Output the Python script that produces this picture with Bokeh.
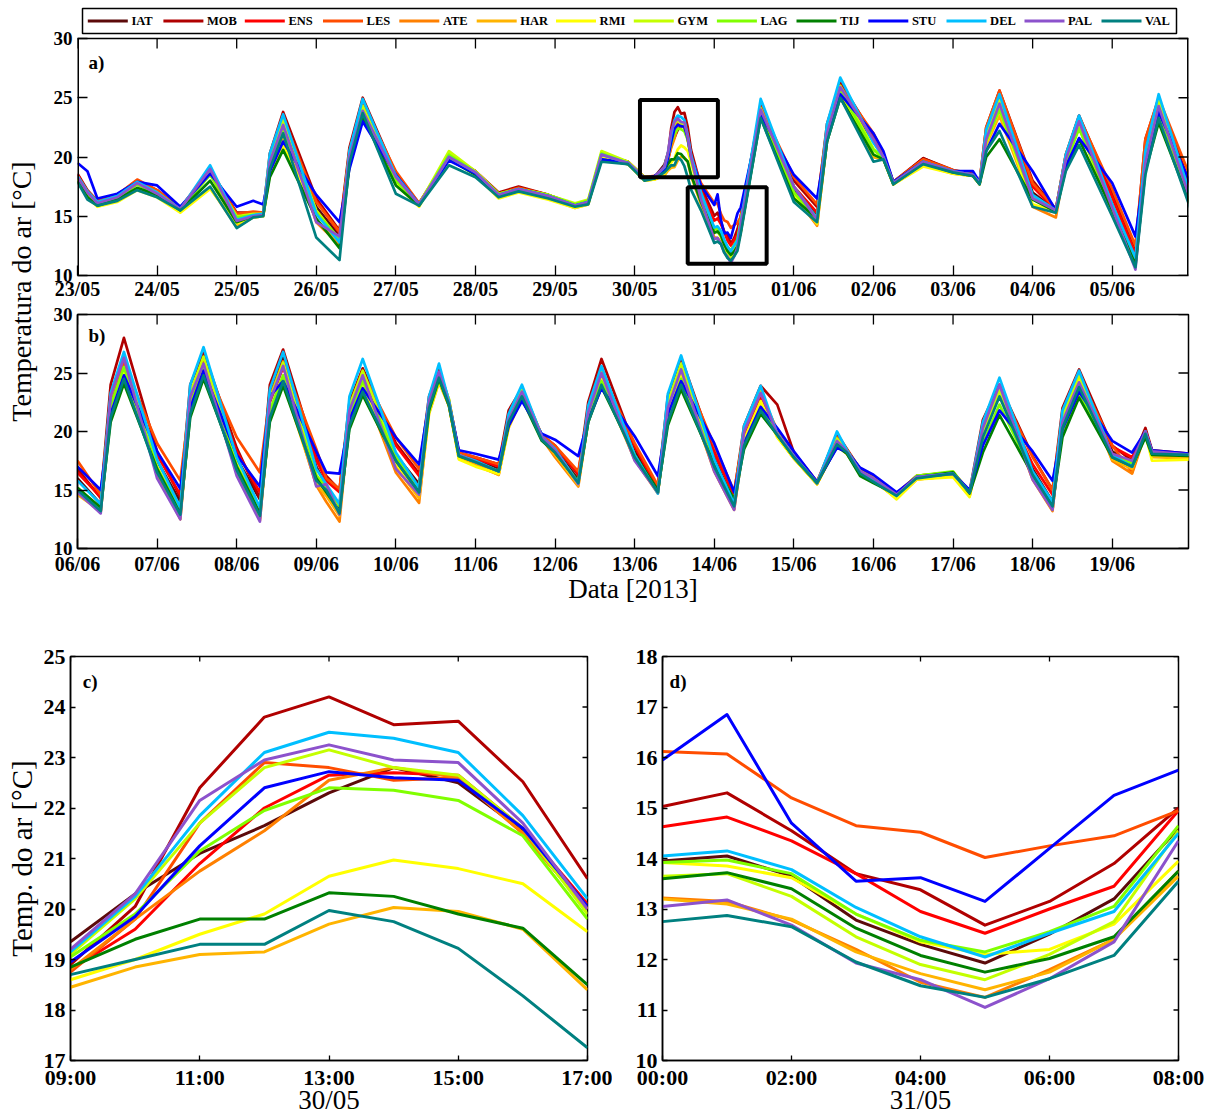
import numpy as np
from bokeh.plotting import figure
from bokeh.layouts import row, column
from bokeh.models import Range1d, FixedTicker, Label
from bokeh.core.properties import value
from bokeh.embed import file_html
from bokeh.resources import INLINE

FONT = "Liberation Serif"

stations = ["IAT", "MOB", "ENS", "LES", "ATE", "HAR", "RMI", "GYM", "LAG", "TIJ", "STU", "DEL", "PAL", "VAL"]
colors = ["#5c0a0a", "#b00000", "#ff0000", "#ff4d00", "#ff8000", "#ffb400", "#ffff00",
          "#c4ff00", "#80ff00", "#008000", "#0000ff", "#00bfff", "#8c52cc", "#008080"]

# ---------------- panel c: 30/05 09:00-17:00 (hourly) ----------------
c_hours = [9, 10, 11, 12, 13, 14, 15, 16, 17]
temps_c = {
    "IAT": [19.35, 20.3, 21.1, 21.65, 22.3, 22.8, 22.5, 21.55, 20.0],
    "MOB": [18.9, 20.05, 22.4, 23.8, 24.2, 23.65, 23.72, 22.52, 20.6],
    "ENS": [18.8, 19.6, 20.9, 22.0, 22.65, 22.7, 22.65, 21.6, 20.1],
    "LES": [18.75, 19.8, 21.7, 22.9, 22.8, 22.55, 22.6, 21.5, 20.0],
    "ATE": [18.8, 19.8, 20.75, 21.55, 22.55, 22.8, 22.6, 21.5, 20.0],
    "HAR": [18.45, 18.85, 19.1, 19.15, 19.7, 20.03, 19.95, 19.6, 18.4],
    "RMI": [18.6, 19.0, 19.5, 19.9, 20.65, 20.97, 20.8, 20.5, 19.55],
    "GYM": [19.1, 20.2, 21.7, 22.8, 23.15, 22.8, 22.65, 21.6, 19.9],
    "LAG": [19.05, 19.9, 21.15, 21.95, 22.4, 22.35, 22.15, 21.45, 19.8],
    "TIJ": [18.85, 19.4, 19.8, 19.8, 20.32, 20.25, 19.9, 19.62, 18.5],
    "STU": [18.95, 19.85, 21.25, 22.4, 22.72, 22.6, 22.55, 21.6, 20.05],
    "DEL": [19.15, 20.25, 21.85, 23.1, 23.5, 23.38, 23.1, 21.85, 20.2],
    "PAL": [19.2, 20.3, 22.15, 22.95, 23.25, 22.95, 22.9, 21.7, 20.0],
    "VAL": [18.7, 19.0, 19.3, 19.3, 19.97, 19.75, 19.22, 18.28, 17.25],
}

# ---------------- panel d: 31/05 00:00-08:00 (hourly) ----------------
d_hours = [0, 1, 2, 3, 4, 5, 6, 7, 8]
temps_d = {
    "IAT": [13.95, 14.05, 13.65, 12.78, 12.3, 11.93, 12.5, 13.2, 14.6],
    "MOB": [15.03, 15.3, 14.55, 13.7, 13.38, 12.68, 13.15, 13.9, 15.0],
    "ENS": [14.63, 14.82, 14.35, 13.7, 12.95, 12.52, 13.0, 13.45, 14.95],
    "LES": [16.12, 16.07, 15.2, 14.65, 14.52, 14.02, 14.25, 14.45, 14.95],
    "ATE": [13.22, 13.15, 12.78, 12.2, 11.55, 11.25, 11.8, 12.4, 13.75],
    "HAR": [13.2, 13.1, 12.8, 12.15, 11.72, 11.4, 11.75, 12.4, 13.65],
    "RMI": [13.92, 13.85, 13.62, 12.9, 12.35, 12.1, 12.2, 12.7, 13.95],
    "GYM": [13.65, 13.7, 13.25, 12.45, 11.9, 11.6, 12.1, 12.75, 14.55],
    "LAG": [13.92, 13.97, 13.7, 12.9, 12.38, 12.15, 12.55, 13.05, 14.65],
    "TIJ": [13.6, 13.72, 13.4, 12.62, 12.08, 11.75, 12.02, 12.45, 13.75],
    "STU": [15.95, 16.85, 14.7, 13.55, 13.62, 13.15, 14.2, 15.25, 15.75],
    "DEL": [14.05, 14.15, 13.78, 13.03, 12.45, 12.05, 12.52, 12.95, 14.5],
    "PAL": [13.05, 13.18, 12.68, 11.93, 11.6, 11.05, 11.62, 12.35, 14.35],
    "VAL": [12.75, 12.87, 12.65, 11.95, 11.48, 11.25, 11.62, 12.08, 13.55],
}

# ---------------- panel a: 23/05-05/06, key hours from 23/05 00:00 ----------------
a_hours = [0, 3, 6, 12, 18, 24, 31, 40, 48, 53, 56, 62, 72, 79, 86, 96, 103, 112, 120, 127,
           133, 142, 150, 154, 158, 166, 171, 174, 188, 206, 216, 223, 230, 240, 243, 246,
           255, 264, 270, 272, 278, 288, 295, 302, 312, 319, 326, 336]
temps_a = {
    "IAT": [18.3, 17.0, 16.2, 16.7, 17.9, 17.0, 15.6, 18.8, 15.1, 15.2, 15.2, 22.5, 15.8, 13.3, 24.0, 18.2, 16.0, 20.0, 18.8, 16.9,
            17.4, 16.8, 15.9, 16.2, 20.2, 19.6, 18.2, 18.3, 16.9, 24.0, 17.3, 15.0, 25.8, 21.3, 20.0, 17.8,
            19.9, 18.8, 18.5, 17.8, 24.6, 17.0, 15.5, 22.8, 16.0, 11.3, 24.5, 16.5],
    "MOB": [18.6, 17.2, 16.3, 16.8, 18.0, 17.2, 15.7, 18.9, 15.3, 15.3, 15.3, 23.8, 16.5, 13.8, 25.0, 18.6, 16.1, 20.0, 18.8, 17.0,
            17.5, 16.8, 16.0, 16.2, 20.2, 19.6, 18.3, 18.3, 17.5, 24.3, 18.0, 15.8, 26.3, 21.8, 20.2, 17.9,
            19.9, 18.9, 18.5, 17.9, 25.6, 18.0, 15.6, 23.5, 17.0, 12.3, 24.9, 17.3],
    "ENS": [18.5, 17.1, 16.2, 16.7, 17.9, 17.1, 15.6, 18.9, 15.0, 15.2, 15.2, 23.0, 16.3, 13.6, 24.2, 18.5, 16.0, 20.0, 18.7, 16.9,
            17.3, 16.7, 15.9, 16.2, 20.2, 19.5, 18.2, 18.3, 17.2, 24.0, 17.5, 15.3, 25.9, 21.5, 20.1, 17.8,
            19.7, 18.8, 18.5, 17.8, 25.0, 17.5, 15.5, 23.2, 16.6, 11.8, 24.6, 17.0],
    "LES": [18.4, 17.1, 16.3, 16.8, 18.1, 17.2, 15.7, 19.0, 15.2, 15.4, 15.3, 23.3, 16.2, 13.7, 24.5, 18.8, 16.1, 20.2, 18.8, 16.9,
            17.4, 16.8, 16.0, 16.3, 20.3, 19.6, 18.3, 18.4, 17.8, 24.2, 18.3, 16.0, 26.0, 22.0, 20.3, 17.9,
            19.8, 18.9, 18.6, 17.9, 25.6, 17.8, 15.6, 23.4, 17.3, 12.5, 25.0, 18.0],
    "ATE": [18.2, 16.9, 16.1, 16.5, 17.7, 16.9, 15.5, 18.6, 14.3, 15.0, 15.1, 22.6, 14.5, 12.6, 24.0, 17.8, 15.9, 20.3, 18.6, 16.7,
            17.2, 16.6, 15.8, 16.1, 20.3, 19.5, 18.1, 18.2, 16.6, 23.8, 16.8, 14.2, 25.6, 20.0, 19.8, 17.7,
            19.5, 18.7, 18.4, 17.7, 24.5, 15.8, 14.9, 22.8, 15.3, 10.8, 24.3, 15.8],
    "HAR": [18.0, 16.7, 15.9, 16.3, 17.3, 16.7, 15.4, 17.4, 14.1, 14.9, 15.0, 21.5, 14.7, 12.8, 23.6, 17.8, 15.9, 20.2, 18.6, 16.6,
            17.1, 16.5, 15.7, 16.0, 20.1, 19.4, 18.0, 18.1, 16.0, 23.5, 16.8, 14.3, 25.3, 20.0, 19.8, 17.7,
            19.3, 18.6, 18.4, 17.7, 23.5, 15.9, 15.3, 22.5, 15.4, 10.9, 24.0, 15.6],
    "RMI": [17.9, 16.6, 15.8, 16.2, 17.2, 16.6, 15.3, 17.3, 14.4, 14.9, 15.0, 21.0, 15.2, 12.9, 23.5, 17.7, 15.8, 20.3, 18.5, 16.5,
            17.0, 16.4, 15.7, 16.0, 20.1, 19.4, 18.0, 18.1, 16.4, 23.6, 16.8, 14.4, 25.6, 20.2, 19.8, 17.7,
            19.2, 18.6, 18.4, 17.7, 24.0, 16.0, 15.4, 22.5, 15.5, 11.0, 24.6, 15.8],
    "GYM": [18.3, 17.0, 16.1, 16.6, 17.8, 17.0, 15.6, 18.7, 15.0, 15.2, 15.2, 23.2, 15.5, 13.0, 24.3, 18.1, 16.0, 20.5, 18.8, 16.9,
            17.3, 16.8, 16.1, 16.4, 20.5, 19.6, 18.3, 18.3, 16.6, 24.1, 17.0, 14.8, 26.0, 20.7, 19.9, 17.8,
            19.6, 18.8, 18.5, 17.8, 24.8, 16.6, 15.4, 22.8, 15.8, 11.0, 24.9, 16.2],
    "LAG": [18.2, 16.9, 16.0, 16.5, 17.7, 16.9, 15.6, 18.5, 14.9, 15.1, 15.2, 22.3, 15.3, 13.1, 23.8, 18.0, 16.0, 20.2, 18.7, 16.9,
            17.3, 16.8, 16.0, 16.3, 20.3, 19.5, 18.2, 18.3, 16.8, 23.8, 17.0, 14.9, 25.6, 20.6, 19.9, 17.8,
            19.6, 18.8, 18.5, 17.8, 24.0, 16.5, 15.4, 22.4, 15.8, 11.0, 24.0, 16.0],
    "TIJ": [18.0, 16.6, 15.9, 16.4, 17.4, 16.8, 15.5, 18.0, 14.5, 15.0, 15.1, 20.6, 14.8, 12.3, 23.4, 17.6, 15.9, 19.8, 18.5, 16.7,
            17.2, 16.6, 15.9, 16.1, 19.8, 19.4, 18.1, 18.2, 16.2, 23.3, 16.5, 14.8, 25.0, 20.2, 19.8, 17.7,
            19.5, 18.7, 18.4, 17.7, 21.5, 16.4, 15.4, 21.5, 15.5, 11.0, 22.9, 15.7],
    "STU": [19.5, 18.8, 16.5, 16.9, 17.9, 17.6, 15.8, 18.6, 15.8, 16.3, 16.0, 21.3, 16.8, 14.5, 23.0, 18.5, 16.0, 19.7, 18.6, 16.8,
            17.3, 16.7, 15.9, 16.2, 19.8, 19.5, 18.2, 18.4, 17.6, 23.6, 18.5, 16.5, 25.3, 22.0, 20.5, 17.9,
            19.6, 18.8, 18.8, 17.9, 22.8, 18.8, 15.5, 21.6, 17.8, 13.3, 23.8, 17.5],
    "DEL": [18.4, 17.1, 16.2, 16.7, 17.9, 17.0, 15.6, 19.3, 14.7, 15.1, 15.2, 23.6, 15.2, 12.8, 24.9, 18.4, 16.0, 20.0, 18.7, 16.8,
            17.3, 16.7, 15.9, 16.2, 20.2, 19.5, 18.2, 18.3, 17.0, 24.9, 17.5, 14.8, 26.7, 21.2, 20.0, 17.8,
            19.6, 18.8, 18.5, 17.8, 25.3, 16.8, 15.5, 23.5, 16.0, 11.5, 25.3, 16.4],
    "PAL": [18.3, 17.0, 16.1, 16.6, 17.8, 16.9, 15.6, 19.0, 14.6, 15.0, 15.1, 22.7, 14.5, 13.3, 23.9, 18.3, 16.0, 20.0, 18.7, 16.8,
            17.3, 16.7, 15.9, 16.2, 20.2, 19.5, 18.2, 18.3, 16.4, 24.0, 17.5, 14.7, 25.9, 21.5, 20.0, 17.8,
            19.6, 18.8, 18.5, 17.8, 24.5, 16.5, 15.5, 23.0, 15.7, 10.5, 24.3, 16.0],
    "VAL": [17.9, 16.4, 15.9, 16.3, 17.2, 16.6, 15.5, 17.5, 14.0, 14.9, 15.0, 22.0, 13.2, 11.3, 23.7, 16.9, 15.9, 19.3, 18.3, 16.6,
            17.1, 16.5, 15.8, 16.0, 19.6, 19.4, 18.0, 18.2, 15.5, 23.3, 16.2, 14.5, 25.0, 19.6, 19.8, 17.7,
            19.4, 18.7, 18.4, 17.7, 22.2, 15.8, 15.3, 21.0, 15.0, 10.7, 23.3, 15.3],
}
# extra morning (10:00) readings on warm days of panel a, station order as above
a_extra_hours = [58, 82, 226, 274, 298, 322]
a_extra_rows = [
    [19.5, 20.3, 19.8, 20.0, 19.5, 18.8, 18.6, 20.0, 19.3, 18.3, 18.8, 20.3, 19.6, 19.0],
    [20.0, 20.8, 20.3, 20.5, 19.5, 19.5, 19.3, 20.2, 19.8, 19.2, 19.0, 20.5, 20.0, 19.5],
    [22.0, 22.8, 22.3, 22.5, 21.5, 21.3, 21.5, 22.3, 21.8, 21.3, 21.5, 22.8, 22.0, 21.3],
    [21.5, 22.5, 22.0, 22.5, 21.5, 21.0, 21.2, 21.8, 21.3, 20.0, 20.5, 22.3, 21.5, 20.5],
    [19.8, 20.2, 20.0, 20.2, 19.6, 19.5, 19.5, 19.8, 19.5, 19.0, 19.2, 20.2, 19.8, 18.8],
    [20.0, 21.5, 20.8, 21.5, 19.5, 19.3, 19.8, 20.0, 19.6, 18.8, 19.5, 20.5, 19.5, 18.5],
]

# ---------------- panel b: 06/06-19/06, key hours from 06/06 00:00 ----------------
# each row: one key hour, values in station order (IAT ... VAL)
b_hours = [0, 7, 14, 24, 31, 38, 48, 55, 62, 72, 75, 79, 86, 96, 103, 109, 112, 115, 120, 127,
           134, 140, 144, 151, 158, 168, 175, 182, 192, 198, 206, 211, 216, 223, 229, 232, 236, 240,
           247, 253, 264, 269, 278, 288, 294, 302, 312, 318, 322, 324, 336]
b_rows = [
    [16.0, 16.8, 16.5, 17.5, 14.8, 14.6, 15.0, 15.2, 15.0, 15.2, 17.0, 15.8, 14.8, 15.0],
    [13.8, 14.3, 14.4, 14.6, 13.1, 13.2, 13.3, 13.4, 13.5, 13.5, 15.0, 13.8, 13.0, 13.2],
    [26.0, 28.0, 25.5, 25.8, 25.5, 25.0, 25.3, 26.5, 25.5, 24.1, 24.8, 26.8, 26.3, 24.5],
    [17.5, 18.3, 18.0, 19.0, 16.4, 16.5, 16.8, 17.0, 16.8, 16.8, 18.3, 17.6, 16.0, 16.5],
    [14.0, 14.4, 14.6, 15.8, 12.5, 12.7, 12.9, 13.2, 13.3, 13.0, 15.1, 13.5, 12.5, 12.9],
    [25.8, 26.8, 25.7, 26.0, 25.3, 25.0, 25.0, 26.4, 25.4, 24.5, 25.2, 27.2, 25.8, 24.8],
    [17.7, 18.6, 18.3, 19.5, 16.5, 16.7, 17.0, 17.2, 17.0, 17.0, 18.0, 17.8, 16.2, 16.7],
    [14.2, 14.3, 14.8, 16.5, 12.4, 12.6, 12.8, 13.3, 13.4, 13.0, 15.3, 13.5, 12.3, 12.8],
    [26.5, 27.0, 25.5, 26.0, 24.6, 24.2, 24.4, 25.9, 24.8, 23.9, 24.3, 26.8, 25.6, 24.3],
    [17.0, 17.8, 17.6, 18.5, 15.4, 15.5, 15.8, 16.3, 16.2, 16.0, 18.3, 16.8, 15.3, 15.8],
    [15.4, 16.2, 15.8, 16.0, 14.0, 14.5, 15.0, 15.2, 15.2, 14.8, 16.5, 15.5, 15.5, 15.0],
    [13.5, 15.0, 14.8, 15.1, 12.3, 12.8, 13.1, 13.5, 13.7, 13.2, 16.4, 13.8, 12.9, 13.0],
    [25.0, 25.4, 24.8, 25.0, 24.0, 23.8, 24.0, 25.2, 24.3, 23.1, 23.7, 26.2, 24.8, 23.4],
    [18.0, 19.0, 18.8, 19.5, 16.5, 17.0, 17.3, 18.0, 17.8, 17.5, 19.5, 18.2, 16.8, 17.5],
    [15.5, 16.4, 16.2, 16.8, 13.9, 14.3, 14.6, 15.0, 15.2, 14.8, 17.2, 15.2, 14.6, 14.8],
    [24.9, 25.3, 25.0, 25.0, 24.4, 24.2, 24.3, 24.8, 24.4, 24.5, 25.0, 25.8, 25.1, 24.6],
    [22.5, 22.7, 22.5, 22.6, 22.2, 22.2, 22.3, 22.8, 22.4, 22.2, 22.5, 22.6, 22.4, 22.3],
    [18.0, 18.2, 18.1, 18.2, 17.8, 17.7, 17.6, 18.0, 17.9, 17.9, 18.4, 18.0, 18.0, 17.9],
    [17.6, 17.8, 17.7, 17.8, 17.2, 17.1, 17.0, 17.4, 17.4, 17.4, 18.1, 17.5, 17.4, 17.4],
    [16.8, 17.2, 17.0, 17.2, 16.3, 16.3, 16.4, 16.6, 16.6, 16.6, 17.6, 16.6, 16.6, 16.6],
    [23.4, 23.7, 23.2, 23.4, 23.0, 22.8, 23.2, 23.8, 23.2, 22.8, 22.6, 24.0, 23.4, 23.0],
    [19.6, 19.7, 19.6, 19.7, 19.4, 19.4, 19.5, 19.6, 19.5, 19.2, 19.8, 19.6, 19.6, 19.3],
    [18.5, 18.8, 18.7, 18.8, 17.8, 18.0, 18.2, 18.4, 18.3, 18.2, 19.3, 18.5, 18.4, 18.2],
    [15.9, 16.3, 16.4, 16.6, 15.3, 15.4, 15.5, 15.6, 15.7, 15.7, 17.9, 15.6, 15.5, 15.6],
    [24.9, 26.2, 24.7, 25.0, 24.5, 24.2, 24.7, 25.3, 24.3, 23.8, 23.7, 25.6, 25.0, 24.0],
    [18.3, 18.7, 18.8, 19.0, 17.6, 17.6, 17.8, 18.0, 18.0, 18.0, 19.6, 18.0, 17.5, 17.8],
    [15.0, 15.3, 15.1, 15.4, 14.7, 14.8, 14.9, 14.8, 14.8, 15.0, 16.2, 14.7, 14.8, 14.8],
    [25.2, 26.3, 25.2, 25.6, 24.8, 24.3, 24.8, 25.8, 24.5, 23.6, 24.3, 26.5, 25.3, 24.0],
    [17.7, 18.3, 18.2, 18.8, 16.6, 16.8, 17.0, 17.3, 17.3, 17.2, 19.0, 17.6, 16.6, 17.0],
    [14.0, 14.7, 14.5, 14.9, 13.3, 13.5, 13.8, 14.0, 14.1, 14.2, 14.8, 13.8, 13.3, 13.6],
    [23.0, 23.9, 23.0, 23.3, 22.5, 22.3, 22.6, 23.5, 22.0, 21.5, 22.1, 23.9, 23.3, 21.8],
    [19.8, 22.3, 20.0, 20.1, 19.6, 19.6, 19.5, 19.9, 19.8, 19.7, 20.3, 19.8, 19.8, 19.7],
    [17.9, 18.2, 18.1, 18.2, 17.7, 17.7, 17.7, 17.9, 17.8, 17.8, 18.3, 17.9, 17.9, 17.8],
    [15.6, 15.7, 15.6, 15.7, 15.5, 15.5, 15.5, 15.6, 15.6, 15.6, 15.7, 15.6, 15.6, 15.6],
    [19.3, 19.8, 19.4, 19.5, 19.0, 18.8, 19.0, 19.4, 19.0, 18.7, 18.6, 20.0, 19.2, 18.9],
    [18.3, 18.5, 18.4, 18.4, 18.1, 18.1, 18.2, 18.4, 18.2, 18.1, 18.3, 18.4, 18.3, 18.2],
    [16.6, 16.8, 16.7, 16.8, 16.4, 16.4, 16.5, 16.6, 16.5, 16.2, 16.9, 16.6, 16.6, 16.4],
    [16.0, 16.1, 16.1, 16.2, 15.8, 15.8, 15.9, 16.0, 15.9, 15.6, 16.3, 15.8, 16.0, 15.7],
    [14.6, 14.7, 14.7, 14.7, 14.3, 14.3, 14.2, 14.6, 14.6, 14.6, 14.8, 14.5, 14.6, 14.5],
    [16.1, 16.2, 16.1, 16.2, 15.9, 15.9, 15.9, 16.2, 16.2, 16.1, 16.1, 16.1, 16.1, 16.0],
    [16.4, 16.5, 16.5, 16.5, 16.2, 16.2, 16.1, 16.5, 16.6, 16.5, 16.4, 16.4, 16.4, 16.4],
    [14.8, 14.9, 14.8, 14.8, 14.5, 14.5, 14.4, 14.8, 14.8, 14.7, 15.0, 14.8, 14.8, 14.8],
    [23.5, 24.0, 23.2, 23.8, 23.5, 23.5, 23.6, 23.5, 22.3, 21.4, 21.8, 24.6, 24.0, 23.0],
    [16.8, 17.9, 17.2, 17.8, 15.9, 16.0, 16.2, 16.3, 16.4, 16.3, 18.3, 16.6, 15.9, 16.3],
    [14.0, 15.0, 14.6, 15.0, 13.2, 13.3, 13.4, 13.8, 13.8, 13.7, 15.8, 14.0, 13.3, 13.6],
    [24.5, 25.3, 24.3, 24.8, 24.6, 24.3, 24.4, 24.8, 23.3, 22.9, 23.4, 25.2, 24.2, 23.8],
    [18.3, 18.8, 18.7, 18.8, 17.5, 17.6, 17.8, 18.0, 18.0, 17.8, 19.2, 18.0, 18.1, 17.8],
    [17.2, 17.5, 17.8, 16.5, 16.4, 16.8, 17.0, 17.3, 17.3, 17.0, 18.2, 17.0, 17.5, 17.0],
    [20.0, 20.3, 20.0, 20.0, 19.8, 19.8, 19.8, 20.0, 19.9, 19.5, 20.0, 20.0, 20.0, 19.8],
    [18.2, 18.4, 18.3, 18.3, 18.0, 17.8, 17.5, 18.2, 18.1, 18.0, 18.4, 18.2, 18.3, 18.1],
    [18.0, 18.1, 18.0, 18.0, 17.8, 17.7, 17.6, 18.0, 18.0, 17.9, 18.1, 18.0, 18.0, 18.0],
]
# extra morning readings (09:00/10:00) on the cyclic days of panel b
b_extra_hours = [10, 34, 58, 82, 106, 130, 154, 178, 201, 273, 297]
b_extra_rows = [
    [22.8, 24.0, 22.3, 22.5, 22.0, 21.5, 21.8, 23.0, 22.2, 20.8, 21.5, 23.3, 23.0, 21.2],
    [22.8, 24.0, 22.5, 22.8, 22.0, 21.8, 21.8, 23.3, 22.3, 21.2, 22.0, 24.0, 23.0, 21.5],
    [23.5, 24.0, 22.5, 23.0, 21.5, 21.2, 21.4, 22.8, 21.8, 20.8, 23.0, 23.6, 22.6, 21.2],
    [22.0, 22.5, 21.8, 22.0, 21.0, 20.8, 21.0, 22.2, 21.3, 20.2, 21.0, 23.0, 21.8, 20.5],
    [22.5, 23.0, 22.5, 22.5, 21.8, 21.5, 21.6, 22.2, 21.8, 21.8, 22.5, 23.0, 22.6, 22.0],
    [21.0, 21.8, 21.0, 21.2, 20.5, 20.3, 20.4, 21.0, 20.8, 20.5, 20.5, 21.5, 21.0, 20.8],
    [21.5, 22.5, 21.3, 21.6, 21.0, 20.8, 21.2, 21.8, 21.0, 20.8, 21.0, 22.2, 21.6, 20.8],
    [22.0, 23.0, 22.0, 22.4, 21.5, 21.0, 21.5, 22.5, 21.3, 20.5, 21.5, 23.2, 22.0, 20.8],
    [19.8, 20.5, 19.8, 20.0, 19.3, 19.0, 19.3, 20.2, 19.0, 18.5, 19.0, 20.5, 20.0, 18.8],
    [20.0, 21.0, 20.0, 20.3, 19.8, 19.8, 19.8, 20.0, 19.0, 18.2, 18.8, 20.8, 20.3, 19.5],
    [21.0, 22.0, 21.0, 21.5, 21.0, 20.8, 21.0, 21.3, 20.0, 19.5, 20.2, 21.8, 20.8, 20.3],
]

a_day_labels = ["23/05", "24/05", "25/05", "26/05", "27/05", "28/05", "29/05",
                "30/05", "31/05", "01/06", "02/06", "03/06", "04/06", "05/06"]
b_day_labels = ["06/06", "07/06", "08/06", "09/06", "10/06", "11/06", "12/06",
                "13/06", "14/06", "15/06", "16/06", "17/06", "18/06", "19/06"]
c_tick_hours = [9, 11, 13, 15, 17]
d_tick_hours = [0, 2, 4, 6, 8]
# highlight boxes on panel a: (start hour, end hour, low temp, high temp)
zoom_boxes = [(169.6, 193.1, 18.3, 24.8), (184.0, 207.8, 11.0, 17.45)]

C_OFFSET = 7 * 24   # 30/05 within panel a
D_OFFSET = 8 * 24   # 31/05 within panel a

for st in stations:
    assert len(temps_a[st]) == len(a_hours), st
assert len(b_rows) == len(b_hours)
assert len(b_extra_rows) == len(b_extra_hours)
assert len(a_extra_rows) == len(a_extra_hours)

# ---------------- layout geometry (page origin at 0,0) ----------------
W_YLAB = 40
W_AB = 1176
FRAME_W_AB = 1111
# panel a: plotting area extended upward so the legend can sit above the 10-30 box
A_B = dict(left=37, right=28, top=2, bottom=27)
A_BOX_TOP_PX = 36            # distance from the frame top to the y=30 line
A_BOX_H = 237
H_A = A_B["top"] + A_BOX_TOP_PX + A_BOX_H + A_B["bottom"]
B_B = dict(left=37, right=28, top=12, bottom=58)     # frame 1111 x 234
H_B = B_B["top"] + 234 + B_B["bottom"]
C_B = dict(left=70, right=25, top=50, bottom=56)     # frame 517 x 405
D_B = dict(left=50, right=38, top=50, bottom=56)     # frame 516 x 405
W_C = C_B["left"] + 517 + C_B["right"]
W_D = D_B["left"] + 516 + D_B["right"]
H_CD = C_B["top"] + 405 + C_B["bottom"]

# legend geometry (screen px on page, converted to panel-a units below)
LEG_BOX_PX = (82, 1176, 8, 33)          # left, right, top, bottom
LEG_ITEM_PX = [87.3, 162.9, 244.3, 322.5, 398.8, 476.2, 555.5, 633.3, 716.4, 796.0, 867.8, 946.0, 1024.0, 1101.0]
LEG_GLYPH_PX = 40
LEG_TEXT_GAP_PX = 43.6
A_FRAME_LEFT_PX = W_YLAB + A_B["left"]
A_Y30_PX = A_B["top"] + A_BOX_TOP_PX


def base_fig(w, h, xr, yr, b):
    p = figure(width=w, height=h, x_range=Range1d(*xr), y_range=Range1d(*yr),
               output_backend="svg", toolbar_location=None,
               min_border_left=b["left"], min_border_right=b["right"],
               min_border_top=b["top"], min_border_bottom=b["bottom"])
    p.grid.visible = False
    p.outline_line_color = "black"
    p.outline_line_width = 1.5
    p.background_fill_color = "white"
    p.border_fill_color = "white"
    return p


def style_axis(ax, ticks, size, tick_len, standoff, labels=None):
    ax.ticker = FixedTicker(ticks=ticks)
    ax.major_tick_in = tick_len
    ax.major_tick_out = 0
    ax.minor_tick_line_color = None
    ax.major_tick_line_color = "black"
    ax.major_tick_line_width = 1.3
    ax.axis_line_color = "black"
    ax.axis_line_width = 1.5
    ax.major_label_text_font = FONT
    ax.major_label_text_font_style = "bold"
    ax.major_label_text_color = "black"
    ax.major_label_text_font_size = size
    ax.major_label_standoff = standoff
    if labels:
        ax.major_label_overrides = labels


def mirror_ticks(p, xticks, yticks, x_right, y_top, dx, dy):
    p.segment(x0=xticks, y0=[y_top] * len(xticks), x1=xticks, y1=[y_top - dy] * len(xticks),
              line_color="black", line_width=1.3)
    p.segment(x0=[x_right] * len(yticks), y0=yticks, x1=[x_right - dx] * len(yticks), y1=yticks,
              line_color="black", line_width=1.3)


def axis_title(ax, text, size, standoff):
    ax.axis_label = text
    ax.axis_label_text_font = FONT
    ax.axis_label_text_font_style = "normal"
    ax.axis_label_text_font_size = size
    ax.axis_label_text_color = "black"
    ax.axis_label_standoff = standoff


def panel_letter(p, x, y, text):
    p.add_layout(Label(x=x, y=y, text=text, text_font=FONT, text_font_style="bold",
                       text_font_size="19px", text_align="left", text_baseline="middle",
                       text_color="black"))


def merged(hours_lists, value_lists):
    xs = np.concatenate([np.asarray(h, dtype=float) for h in hours_lists])
    ys = np.concatenate([np.asarray(v, dtype=float) for v in value_lists])
    order = np.argsort(xs, kind="stable")
    return xs[order], ys[order]


day_ticks = [24 * i for i in range(14)]
yticks_ab = [10, 15, 20, 25, 30]
XR_AB = (0, 335)
PX_PER_H = FRAME_W_AB / (XR_AB[1] - XR_AB[0])
PX_PER_DEG = A_BOX_H / 20.0

# ---------------- panel a ----------------
ya_top = 30 + A_BOX_TOP_PX / PX_PER_DEG
pa = base_fig(W_AB, H_A, XR_AB, (10, ya_top), A_B)
pa.outline_line_color = None
style_axis(pa.below[0], day_ticks, "20px", 10, 2, labels={t: l for t, l in zip(day_ticks, a_day_labels)})
style_axis(pa.left[0], yticks_ab, "19px", 10, 5)
pa.left[0].axis_line_color = None

for i, (st, col) in enumerate(zip(stations, colors)):
    xs, ys = merged([a_hours, [C_OFFSET + h for h in c_hours], [D_OFFSET + h for h in d_hours], a_extra_hours],
                    [temps_a[st], temps_c[st], temps_d[st], [r_[i] for r_ in a_extra_rows]])
    pa.line(xs, ys, line_color=col, line_width=2.7, line_join="round")

# box of panel a (left/right edges are half-clipped by the plotting area, hence the double width)
pa.segment(x0=[XR_AB[0], XR_AB[1]], y0=[10, 10], x1=[XR_AB[0], XR_AB[1]], y1=[30, 30],
           line_color="black", line_width=3)
pa.segment(x0=[XR_AB[0]], y0=[30], x1=[XR_AB[1]], y1=[30], line_color="black", line_width=1.5)
mirror_ticks(pa, day_ticks, yticks_ab, XR_AB[1], 30, 10 / PX_PER_H, 10 / PX_PER_DEG)

pa.quad(left=[b[0] for b in zoom_boxes], right=[b[1] for b in zoom_boxes],
        bottom=[b[2] for b in zoom_boxes], top=[b[3] for b in zoom_boxes],
        fill_alpha=0, line_color="black", line_width=4)
panel_letter(pa, 3.3, 27.97, "a)")


def a_x(px):
    return XR_AB[0] + (px - A_FRAME_LEFT_PX) / PX_PER_H


def a_y(py):
    return 30 + (A_Y30_PX - py) / PX_PER_DEG


# legend drawn in panel a's extended area
l_, r_, t_, b_ = LEG_BOX_PX
pa.quad(left=[a_x(l_)], right=[a_x(r_)], top=[a_y(t_)], bottom=[a_y(b_)],
        fill_color="white", line_color="black", line_width=1.5)
leg_y = a_y((t_ + b_) / 2)
pa.segment(x0=[a_x(px) for px in LEG_ITEM_PX], y0=[leg_y] * len(stations),
           x1=[a_x(px + LEG_GLYPH_PX) for px in LEG_ITEM_PX], y1=[leg_y] * len(stations),
           line_color=colors, line_width=3)
pa.text(x=[a_x(px + LEG_TEXT_GAP_PX) for px in LEG_ITEM_PX], y=[leg_y] * len(stations), text=stations,
        text_font=value(FONT), text_font_style="bold", text_font_size="12.5px",
        text_baseline="middle", text_align="left", text_color="black")

# ---------------- panel b ----------------
YR_B = (10, 30)
pb = base_fig(W_AB, H_B, XR_AB, YR_B, B_B)
style_axis(pb.below[0], day_ticks, "20px", 10, 4, labels={t: l for t, l in zip(day_ticks, b_day_labels)})
style_axis(pb.left[0], yticks_ab, "19px", 10, 5)
axis_title(pb.below[0], "Data [2013]", "27px", -4)
mirror_ticks(pb, day_ticks, yticks_ab, XR_AB[1], YR_B[1], 10 / PX_PER_H, 10 * 20 / 234)
for i, (st, col) in enumerate(zip(stations, colors)):
    xs, ys = merged([b_hours, b_extra_hours], [[r_[i] for r_ in b_rows], [r_[i] for r_ in b_extra_rows]])
    pb.line(xs, ys, line_color=col, line_width=2.7, line_join="round")
panel_letter(pb, 3.3, 28.2, "b)")

# ---------------- y label shared by a and b ----------------
H_AB = H_A + H_B
ylab = figure(width=W_YLAB, height=H_AB, x_range=Range1d(0, W_YLAB), y_range=Range1d(0, H_AB),
              x_axis_type=None, y_axis_type=None, toolbar_location=None, output_backend="svg",
              min_border=0, outline_line_color=None)
ylab.grid.visible = False
ylab.add_layout(Label(x=21, y=H_AB - 291, text="Temperatura do ar [°C]", angle=np.pi / 2,
                      text_align="center", text_baseline="middle", text_font=FONT,
                      text_font_size="28px", text_color="black"))

# ---------------- panel c ----------------
XR_C, YR_C = (9, 17), (17, 25)
pc = base_fig(W_C, H_CD, XR_C, YR_C, C_B)
style_axis(pc.below[0], c_tick_hours, "22px", 5, 4, labels={h: f"{h:02d}:00" for h in c_tick_hours})
style_axis(pc.left[0], list(range(17, 26)), "22px", 5, 5)
axis_title(pc.below[0], "30/05", "27px", -8)
axis_title(pc.left[0], "Temp. do ar [°C]", "29px", 3)
mirror_ticks(pc, c_tick_hours, list(range(17, 26)), XR_C[1], YR_C[1], 5 * 8 / 517, 5 * 8 / 405)
for st, col in zip(stations, colors):
    pc.line(c_hours, temps_c[st], line_color=col, line_width=3, line_join="round")
panel_letter(pc, 9.19, 24.51, "c)")

# ---------------- panel d ----------------
XR_D, YR_D = (0, 8), (10, 18)
pd_ = base_fig(W_D, H_CD, XR_D, YR_D, D_B)
style_axis(pd_.below[0], d_tick_hours, "22px", 5, 4, labels={h: f"{h:02d}:00" for h in d_tick_hours})
style_axis(pd_.left[0], list(range(10, 19)), "22px", 5, 5)
axis_title(pd_.below[0], "31/05", "27px", -8)
mirror_ticks(pd_, d_tick_hours, list(range(10, 19)), XR_D[1], YR_D[1], 5 * 8 / 516, 5 * 8 / 405)
for st, col in zip(stations, colors):
    pd_.line(d_hours, temps_d[st], line_color=col, line_width=3, line_join="round")
panel_letter(pd_, 0.11, 17.5, "d)")

layout = column(row(ylab, column(pa, pb)), row(pc, pd_))

with open("out.html", "w") as f:
    f.write(file_html(layout, INLINE))
